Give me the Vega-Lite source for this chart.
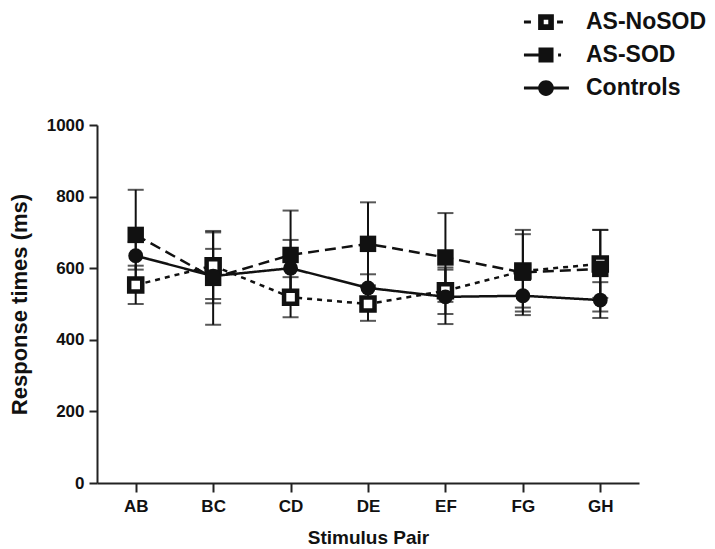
{
  "$schema": "https://vega.github.io/schema/vega-lite/v6.json",
  "width": 542,
  "height": 358,
  "autosize": {"type": "none"},
  "padding": {"left": 97, "top": 125, "right": 76, "bottom": 66},
  "background": "white",
  "config": {
    "view": {"stroke": null},
    "font": "Liberation Sans",
    "axis": {
      "labelFont": "Liberation Sans",
      "labelFontWeight": "bold",
      "labelColor": "#111",
      "titleFont": "Liberation Sans",
      "titleFontWeight": "bold",
      "titleColor": "#111",
      "domainColor": "#222",
      "tickColor": "#222",
      "domainWidth": 2,
      "tickWidth": 2,
      "grid": false
    }
  },
  "data": {
    "values": [
      {"group": "AS-NoSOD", "pair": "AB", "mean": 553, "lo": 500, "hi": 607},
      {"group": "AS-NoSOD", "pair": "BC", "mean": 607, "lo": 514, "hi": 700},
      {"group": "AS-NoSOD", "pair": "CD", "mean": 519, "lo": 463, "hi": 575},
      {"group": "AS-NoSOD", "pair": "DE", "mean": 500, "lo": 453, "hi": 547},
      {"group": "AS-NoSOD", "pair": "EF", "mean": 537, "lo": 472, "hi": 602},
      {"group": "AS-NoSOD", "pair": "FG", "mean": 592, "lo": 490, "hi": 695},
      {"group": "AS-NoSOD", "pair": "GH", "mean": 612, "lo": 517, "hi": 707},
      {"group": "AS-SOD", "pair": "AB", "mean": 693, "lo": 567, "hi": 819},
      {"group": "AS-SOD", "pair": "BC", "mean": 573, "lo": 442, "hi": 704},
      {"group": "AS-SOD", "pair": "CD", "mean": 637, "lo": 513, "hi": 761},
      {"group": "AS-SOD", "pair": "DE", "mean": 668, "lo": 552, "hi": 784},
      {"group": "AS-SOD", "pair": "EF", "mean": 630, "lo": 506, "hi": 754},
      {"group": "AS-SOD", "pair": "FG", "mean": 588, "lo": 469, "hi": 707},
      {"group": "AS-SOD", "pair": "GH", "mean": 598, "lo": 479, "hi": 707},
      {"group": "Controls", "pair": "AB", "mean": 635, "lo": 596, "hi": 674},
      {"group": "Controls", "pair": "BC", "mean": 578, "lo": 502, "hi": 654},
      {"group": "Controls", "pair": "CD", "mean": 600, "lo": 521, "hi": 679},
      {"group": "Controls", "pair": "DE", "mean": 545, "lo": 507, "hi": 583},
      {"group": "Controls", "pair": "EF", "mean": 520, "lo": 444, "hi": 596},
      {"group": "Controls", "pair": "FG", "mean": 523, "lo": 479, "hi": 567},
      {"group": "Controls", "pair": "GH", "mean": 511, "lo": 461, "hi": 561}
    ]
  },
  "encoding": {
    "x": {
      "field": "pair",
      "type": "ordinal",
      "sort": ["AB", "BC", "CD", "DE", "EF", "FG", "GH"],
      "scale": {"type": "point", "padding": 0.5},
      "axis": {
        "title": "Stimulus Pair",
        "labelAngle": 0,
        "labelFontSize": 17,
        "labelPadding": 6,
        "tickSize": 9,
        "titleFontSize": 19,
        "titlePadding": 14
      }
    }
  },
  "layer": [
    {
      "mark": {"type": "rule", "color": "#111", "strokeWidth": 2},
      "encoding": {
        "y": {
          "field": "lo",
          "type": "quantitative",
          "title": "Response times (ms)",
          "scale": {"domain": [0, 1000]},
          "axis": {
            "values": [0, 200, 400, 600, 800, 1000],
            "format": "d",
            "labelFontSize": 17,
            "labelPadding": 5,
            "tickSize": 8,
            "titleFontSize": 22,
            "titlePadding": 15
          }
        },
        "y2": {"field": "hi"}
      }
    },
    {
      "mark": {"type": "tick", "color": "#111", "thickness": 2, "size": 16},
      "encoding": {
        "y": {"field": "lo", "type": "quantitative", "title": "Response times (ms)"}
      }
    },
    {
      "mark": {"type": "tick", "color": "#111", "thickness": 2, "size": 16},
      "encoding": {
        "y": {"field": "hi", "type": "quantitative", "title": "Response times (ms)"}
      }
    },
    {
      "mark": {"type": "line", "color": "#111", "strokeWidth": 2.5},
      "encoding": {
        "y": {"field": "mean", "type": "quantitative", "title": "Response times (ms)"},
        "strokeDash": {
          "field": "group",
          "type": "nominal",
          "scale": {"domain": ["Controls", "AS-NoSOD", "AS-SOD"], "range": [[1, 0], [5, 5], [11, 6]]},
          "legend": null
        }
      }
    },
    {
      "transform": [{"filter": {"field": "group", "equal": "AS-NoSOD"}}],
      "mark": {"type": "point", "shape": "square", "filled": true, "fill": "white", "stroke": "#111", "strokeWidth": 4.5, "size": 170, "opacity": 1},
      "encoding": {
        "y": {"field": "mean", "type": "quantitative", "title": "Response times (ms)"}
      }
    },
    {
      "transform": [{"filter": {"field": "group", "equal": "AS-SOD"}}],
      "mark": {"type": "point", "shape": "square", "filled": true, "color": "#111", "size": 270, "opacity": 1},
      "encoding": {
        "y": {"field": "mean", "type": "quantitative", "title": "Response times (ms)"}
      }
    },
    {
      "transform": [{"filter": {"field": "group", "equal": "Controls"}}],
      "mark": {"type": "point", "shape": "circle", "filled": true, "color": "#111", "size": 220, "opacity": 1},
      "encoding": {
        "y": {"field": "mean", "type": "quantitative", "title": "Response times (ms)"}
      }
    },
    {
      "transform": [{"filter": "false"}],
      "mark": {"type": "point", "filled": true, "opacity": 1, "color": "#111", "stroke": "#111", "strokeWidth": 3},
      "encoding": {
        "y": {"field": "mean", "type": "quantitative", "title": "Response times (ms)"},
        "shape": {
          "field": "group",
          "type": "nominal",
          "scale": {
            "domain": ["AS-NoSOD", "AS-SOD", "Controls"],
            "range": [
              "M-1.26,-0.09H-0.86V0.09H-1.26ZM0.63,-0.09H0.97V0.09H0.63ZM-0.45,-0.45H0.45V0.45H-0.45ZM-0.13,-0.13V0.13H0.13V-0.13Z",
              "M-1.26,-0.09H-0.3V0.09H-1.26ZM0.69,-0.09H0.86V0.09H0.69ZM-0.43,-0.43H0.43V0.43H-0.43Z",
              "M-1.26,-0.09H1.31V0.09H-1.26ZM0.45,0A0.45,0.45,0,1,1,-0.45,0A0.45,0.45,0,1,1,0.45,0Z"
            ]
          },
          "legend": {
            "orient": "none",
            "legendX": 430,
            "legendY": -122,
            "title": null,
            "padding": 0,
            "rowPadding": 0,
            "symbolSize": 1225,
            "symbolStrokeWidth": 3,
            "symbolFillColor": "#111",
            "symbolStrokeColor": "#111",
            "symbolOpacity": 1,
            "labelFontSize": 23,
            "labelFont": "Liberation Sans",
            "labelFontWeight": "bold",
            "labelColor": "#111",
            "labelOffset": 21
          }
        }
      }
    }
  ]
}
